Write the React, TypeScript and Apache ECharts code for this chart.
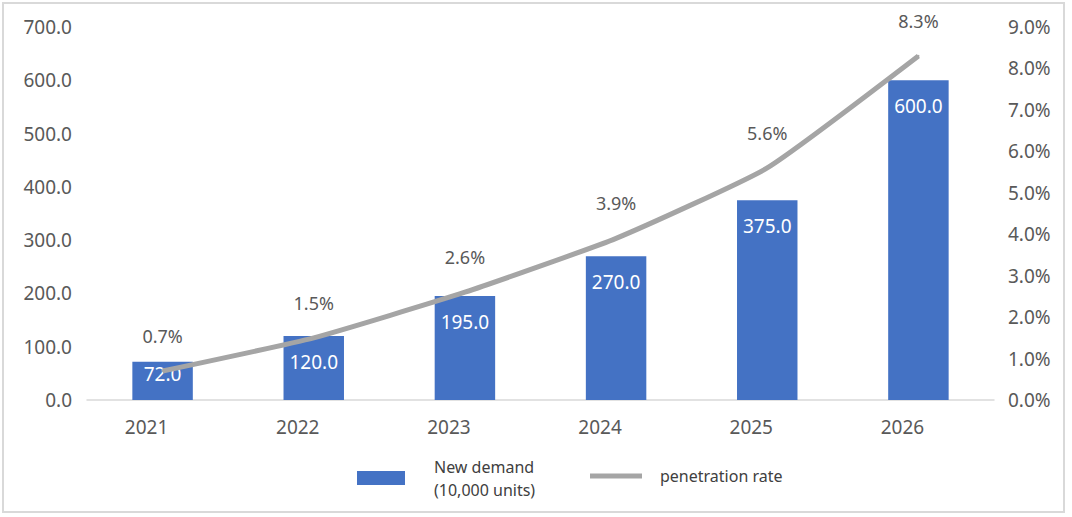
import React, { useEffect, useRef } from "react";
import * as echarts from "echarts";

const years = ["2021", "2022", "2023", "2024", "2025", "2026"];
const newDemand = [72.0, 120.0, 195.0, 270.0, 375.0, 600.0];
const penetration = [0.7, 1.5, 2.6, 3.9, 5.6, 8.3];
const barName = "New demand\n(10,000 units)";
const lineName = "penetration rate";

const FONT = "'Noto Sans', 'Liberation Sans', sans-serif";
const GRAY = "#595959";

export default function App() {
  const ref = useRef<HTMLDivElement>(null);
  useEffect(() => {
    document.body.style.margin = "0";
    const chart = echarts.init(ref.current!, undefined, { renderer: "svg" });
    chart.setOption({
      animation: false,
      backgroundColor: "#ffffff",
      textStyle: { fontFamily: FONT },
      grid: { left: 87, right: 78, top: 27, bottom: 117 },
      graphic: [
        {
          type: "rect",
          shape: { x: 3, y: 3, width: 1061, height: 509 },
          style: { fill: "none", stroke: "#D9D9D9", lineWidth: 2 },
          silent: true,
        },
      ],
      legend: [
        {
          data: [{ name: barName, icon: "rect" }],
          left: 357,
          top: 455,
          padding: 0,
          itemWidth: 48,
          itemHeight: 14,
          textStyle: { color: "#404040", fontSize: 16, lineHeight: 23, padding: [0, 0, 0, 24] },
        },
        {
          data: [{ name: lineName, icon: "rect", itemStyle: { color: "#A5A5A5", opacity: 1 } }],
          left: 590,
          top: 468,
          padding: 0,
          itemWidth: 52,
          itemHeight: 5,
          textStyle: { color: "#404040", fontSize: 16, padding: [0, 0, 0, 13] },
        },
      ],
      xAxis: {
        type: "category",
        data: years,
        axisLine: { lineStyle: { color: "#D9D9D9", width: 1.5 } },
        axisTick: { show: false },
        axisLabel: { color: GRAY, fontSize: 19, margin: 17, padding: [0, 32, 0, 0] },
      },
      yAxis: [
        {
          type: "value",
          min: 0,
          max: 700,
          interval: 100,
          splitLine: { show: false },
          axisLine: { show: false },
          axisTick: { show: false },
          axisLabel: {
            color: GRAY,
            fontSize: 19,
            margin: 15,
            formatter: (v: number) => v.toFixed(1),
          },
        },
        {
          type: "value",
          min: 0,
          max: 9,
          interval: 1,
          splitLine: { show: false },
          axisLine: { show: false },
          axisTick: { show: false },
          axisLabel: {
            color: GRAY,
            fontSize: 19,
            margin: 14,
            formatter: (v: number) => v.toFixed(1) + "%",
          },
        },
      ],
      series: [
        {
          name: barName,
          type: "bar",
          data: newDemand.map((v, i) =>
            i === 0
              ? { value: v, label: { distance: 3 } }
              : { value: v }
          ),
          barCategoryGap: "60%",
          itemStyle: { color: "#4472C4" },
          label: {
            show: true,
            position: "insideTop",
            distance: 16,
            color: "#ffffff",
            fontSize: 19,
            formatter: (p: any) => Number(p.value).toFixed(1),
          },
          z: 2,
        },
        {
          name: lineName,
          type: "line",
          yAxisIndex: 1,
          data: penetration,
          smooth: 0.15,
          symbol: "circle",
          symbolSize: 2,
          showSymbol: true,
          showAllSymbol: true,
          lineStyle: { color: "#A5A5A5", width: 5 },
          itemStyle: { color: "#A5A5A5" },
          label: {
            show: true,
            position: "top",
            distance: 25,
            color: GRAY,
            fontSize: 18,
            formatter: (p: any) => Number(p.value).toFixed(1) + "%",
          },
          labelLayout: { hideOverlap: false },
          z: 3,
        },
      ],
    });
    return () => chart.dispose();
  }, []);
  return (
    <div
      ref={ref}
      style={{ position: "absolute", left: 0, top: 0, width: 1072, height: 517 }}
    />
  );
}
